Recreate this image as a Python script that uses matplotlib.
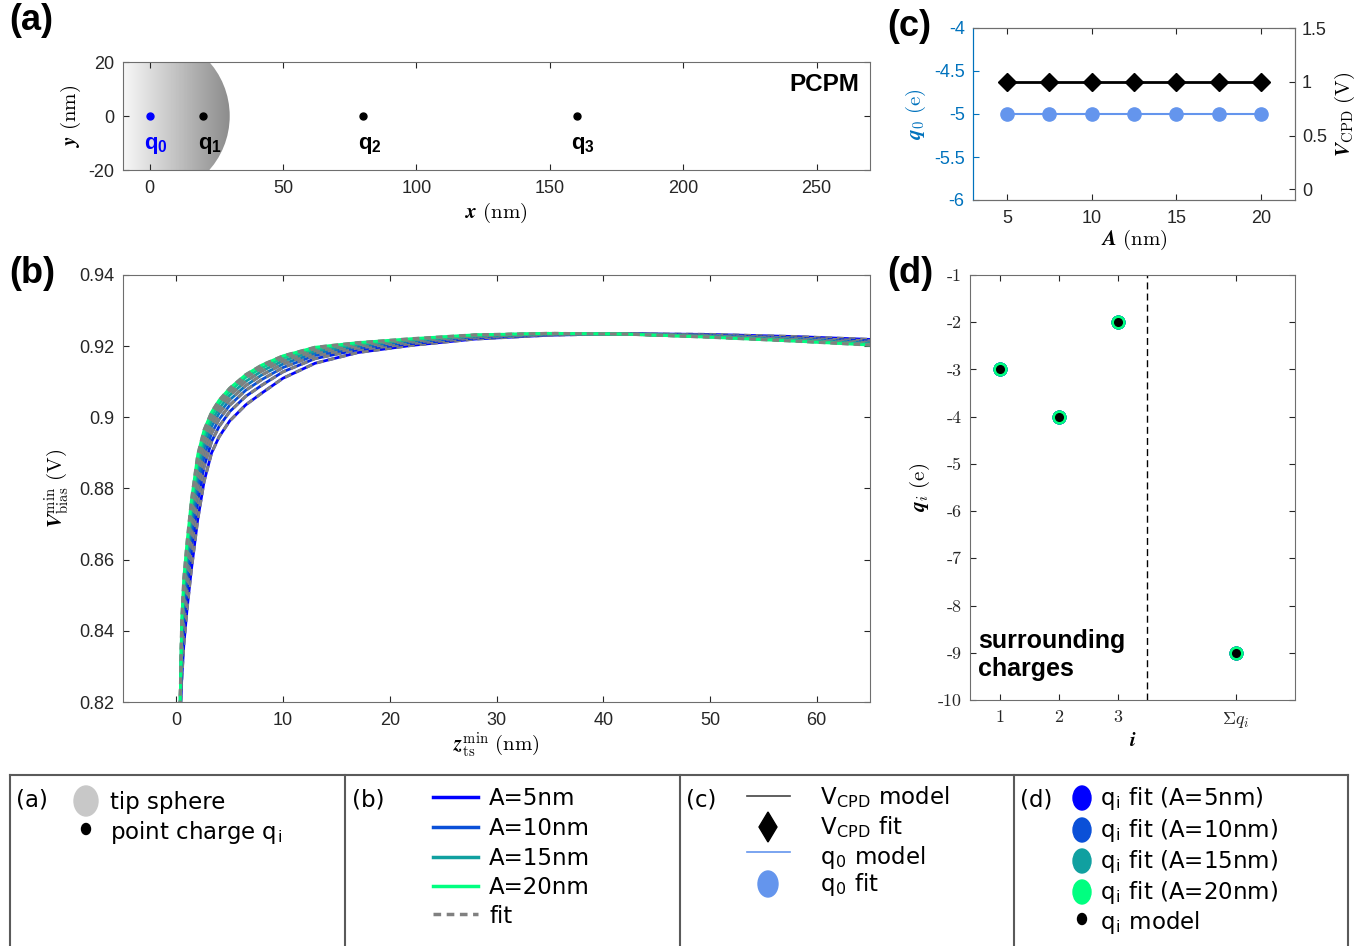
import matplotlib
matplotlib.use("Agg")
import matplotlib.pyplot as plt
from matplotlib.patches import Circle, Ellipse, Polygon
import numpy as np

# Fonts
plt.rcParams['font.family'] = ['Liberation Sans', 'DejaVu Sans']
plt.rcParams['mathtext.fontset'] = 'cm'
plt.rcParams['mathtext.bf'] = 'Liberation Sans:bold'
plt.rcParams['mathtext.rm'] = 'Liberation Sans'
plt.rcParams['mathtext.it'] = 'Liberation Sans:italic'
plt.rcParams['axes.unicode_minus'] = False

# ---------------- data ----------------
# (a) geometry
tip_x, tip_y, tip_radius = 0, 0, 30
charge_x = [0, 20, 80, 160]
charge_y = [0, 0, 0, 0]
charge_names = ["0", "1", "2", "3"]

# (b) V_bias^min vs z_ts^min for each amplitude
A_vals = [5, 7.5, 10, 12.5, 15, 17.5, 20]
z_ts = [0.3, 0.5, 0.7, 1.0, 1.4, 2.0, 2.6, 3.3, 4.0, 5.0, 6.5, 8.0, 10, 13, 17, 22, 28, 35, 42, 50, 58, 65]
v_A5 = [0.810, 0.826, 0.836, 0.846, 0.857, 0.8712, 0.8820, 0.8900, 0.8945, 0.8990, 0.9035, 0.9068,
        0.9110, 0.9152, 0.9182, 0.9202, 0.9220, 0.9231, 0.9235, 0.9233, 0.9227, 0.9219]
v_A7p5 = [0.8106, 0.8308, 0.8413, 0.8513, 0.8625, 0.8763, 0.8861, 0.8932, 0.8974, 0.9016, 0.9059, 0.9090,
          0.9128, 0.9165, 0.9190, 0.9207, 0.9223, 0.9232, 0.9235, 0.9231, 0.9223, 0.9215]
v_A10 = [0.8110, 0.8342, 0.8451, 0.8551, 0.8664, 0.8800, 0.8890, 0.8955, 0.8994, 0.9034, 0.9076, 0.9106,
         0.9140, 0.9174, 0.9195, 0.9211, 0.9226, 0.9233, 0.9235, 0.9229, 0.9221, 0.9211]
v_A12p5 = [0.8113, 0.8369, 0.8482, 0.8582, 0.8695, 0.8829, 0.8913, 0.8974, 0.9011, 0.9049, 0.9089, 0.9119,
           0.9150, 0.9181, 0.9200, 0.9214, 0.9228, 0.9234, 0.9234, 0.9228, 0.9219, 0.9209]
v_A15 = [0.8116, 0.8393, 0.8508, 0.8608, 0.8722, 0.8855, 0.8933, 0.8990, 0.9025, 0.9062, 0.9101, 0.9130,
         0.9159, 0.9187, 0.9204, 0.9217, 0.9229, 0.9235, 0.9234, 0.9227, 0.9217, 0.9207]
v_A17p5 = [0.8118, 0.8413, 0.8531, 0.8631, 0.8746, 0.8877, 0.8951, 0.9004, 0.9038, 0.9073, 0.9112, 0.9139,
           0.9167, 0.9193, 0.9207, 0.9219, 0.9231, 0.9236, 0.9234, 0.9226, 0.9215, 0.9205]
v_A20 = [0.812, 0.843, 0.855, 0.865, 0.8765, 0.8895, 0.8965, 0.9015, 0.9048, 0.9082, 0.9120, 0.9147,
         0.9173, 0.9197, 0.9210, 0.9221, 0.9232, 0.9236, 0.9234, 0.9225, 0.9214, 0.9203]
v_curves = [v_A5, v_A7p5, v_A10, v_A12p5, v_A15, v_A17p5, v_A20]
A_colors = ['#0000ff', '#0028e6', '#0a50d8', '#0c78bc', '#10a0a0', '#08d090', '#00ff80']

# (c) fitted q0 and V_CPD
q0_model = [-5, -5, -5, -5, -5, -5, -5]
q0_fit = [-5, -5, -5, -5, -5, -5, -5]
vcpd_model = [1, 1, 1, 1, 1, 1, 1]
vcpd_fit = [1, 1, 1, 1, 1, 1, 1]

# (d) surrounding charges
qi_pos = [1, 2, 3, 5]
qi_model = [-3, -4, -2, -9]
qi_fit = [[-3, -4, -2, -9] for _ in A_vals]
qi_ticklabels = ["1", "2", "3", r"$\boldsymbol{\Sigma q_i}$"]

# ---------------- figure ----------------
W, H = 1359, 946
fig = plt.figure(figsize=(W / 100, H / 100), dpi=100)

spine_col = '#6e6e6e'
tick_col = '#262626'
blue_ax = '#0072bd'
cornflower = '#6495ed'
LAB = 15


def px_axes(l, t, r, b):
    return fig.add_axes([l / W, 1 - b / H, (r - l) / W, (b - t) / H])


def style(ax, size=13):
    for s in ax.spines.values():
        s.set_color(spine_col)
    ax.tick_params(direction='in', colors=tick_col, labelsize=size, length=4,
                   top=True, right=True)
    ax.tick_params(axis='x', pad=7)
    ax.tick_params(axis='y', pad=6)


# panel (a)
ax_a = px_axes(123, 62, 870, 170)
grad = np.linspace(0.97, 0.55, 256).reshape(1, -1)
im = ax_a.imshow(grad, cmap='gray', vmin=0, vmax=1, aspect='auto',
                 extent=[-10, tip_x + tip_radius, -20, 20], zorder=1)
circ = Circle((tip_x, tip_y), tip_radius, facecolor='none', edgecolor='none')
ax_a.add_patch(circ)
im.set_clip_path(circ)
for x, y, n in zip(charge_x, charge_y, charge_names):
    col = 'blue' if n == "0" else 'black'
    ax_a.plot(x, y, 'o', color=col, ms=5, zorder=3)
    ax_a.text(x - 2, y - 11, r"$\mathbf{q}_{\mathbf{%s}}$" % n, color=col, fontsize=16,
              ha='left', va='center', math_fontfamily='custom')
ax_a.text(0.985, 0.79, "PCPM", transform=ax_a.transAxes, ha='right', va='center',
          fontsize=17.5, weight='bold')
ax_a.set_xlim(-10, 270)
ax_a.set_ylim(-20, 20)
ax_a.set_xticks([0, 50, 100, 150, 200, 250])
ax_a.set_yticks([-20, 0, 20])
style(ax_a)
ax_a.set_xlabel(r"$\boldsymbol{x}\ \mathrm{(nm)}$", fontsize=LAB, labelpad=3, math_fontfamily='cm')
ax_a.set_ylabel(r"$\boldsymbol{y}\ \mathrm{(nm)}$", fontsize=LAB, labelpad=4, math_fontfamily='cm')

# panel (b)
ax_b = px_axes(123, 275, 870, 702)
for v, c in zip(v_curves, A_colors):
    ax_b.plot(z_ts, v, color=c, lw=2)
    ax_b.plot(z_ts, v, color='#808080', lw=2.2, ls=(0, (2.2, 1.6)))
ax_b.set_xlim(-5, 65)
ax_b.set_ylim(0.82, 0.94)
ax_b.set_xticks(range(0, 61, 10))
ax_b.set_yticks([0.82, 0.84, 0.86, 0.88, 0.9, 0.92, 0.94])
ax_b.set_yticklabels(['0.82', '0.84', '0.86', '0.88', '0.9', '0.92', '0.94'])
style(ax_b)
ax_b.set_xlabel(r"$\boldsymbol{z}_{\mathrm{ts}}^{\mathrm{min}}\ \mathrm{(nm)}$", fontsize=LAB,
                labelpad=1, math_fontfamily='cm')
ax_b.set_ylabel(r"$\boldsymbol{V}_{\mathrm{bias}}^{\mathrm{min}}\ \mathrm{(V)}$", fontsize=LAB,
                labelpad=6, math_fontfamily='cm')

# panel (c)
ax_c = px_axes(973, 28, 1295, 200)
ax_c.plot(A_vals, q0_model, color=cornflower, lw=1.5)
ax_c.plot(A_vals, q0_fit, 'o', color=cornflower, ms=9.5)
ax_c.set_xlim(3, 22)
ax_c.set_ylim(-6, -4)
ax_c.set_xticks([5, 10, 15, 20])
ax_c.set_yticks([-6, -5.5, -5, -4.5, -4])
ax_c.set_yticklabels(['-6', '-5.5', '-5', '-4.5', '-4'])
style(ax_c)
ax_c.tick_params(right=False)
ax_c.tick_params(axis='y', colors=blue_ax)
ax_c.spines['left'].set_color(blue_ax)
ax_c.set_xlabel(r"$\boldsymbol{A}\ \mathrm{(nm)}$", fontsize=LAB, labelpad=1, math_fontfamily='cm')
ax_c.set_ylabel(r"$\boldsymbol{q}_0\ \mathrm{(e)}$", fontsize=LAB, color=blue_ax, labelpad=4,
                math_fontfamily='cm')
ax_c2 = ax_c.twinx()
ax_c2.plot(A_vals, vcpd_model, color='black', lw=2)
ax_c2.plot(A_vals, vcpd_fit, 'D', color='black', ms=9)
ax_c2.set_ylim(-0.1, 1.5)
ax_c2.set_yticks([0, 0.5, 1, 1.5])
ax_c2.set_yticklabels(['0', '0.5', '1', '1.5'])
for s in ax_c2.spines.values():
    s.set_color(spine_col)
ax_c2.spines['left'].set_color(blue_ax)
ax_c2.tick_params(axis='y', direction='in', colors=tick_col, labelsize=13, length=4, pad=5)
ax_c2.set_ylabel(r"$\boldsymbol{V}_{\mathrm{CPD}}\ \mathrm{(V)}$", fontsize=LAB, labelpad=4,
                 math_fontfamily='cm')

# panel (d)
ax_d = px_axes(970, 275, 1295, 700)
for f, c in zip(qi_fit, A_colors):
    ax_d.plot(qi_pos, f, 'o', color=c, ms=9, ls='none')
ax_d.plot(qi_pos, qi_model, 'o', color='black', ms=5.5, ls='none')
ax_d.axvline(3.5, color='black', lw=1, ls=(0, (5, 3)))
ax_d.text(0.63, -9.05, "surrounding\ncharges", fontsize=18, weight='bold', ha='left',
          va='center', linespacing=1.2)
ax_d.set_xlim(0.5, 6)
ax_d.set_ylim(-10, -1)
ax_d.set_xticks(qi_pos)
ax_d.set_xticklabels(qi_ticklabels)
ax_d.set_yticks(range(-10, 0))
ax_d.set_yticklabels([str(t) for t in range(-10, 0)])
style(ax_d, size=13)
for lbl in ax_d.get_xticklabels() + ax_d.get_yticklabels():
    lbl.set_fontfamily('cmr10')
    lbl.set_math_fontfamily('cm')
ax_d.set_xlabel(r"$\boldsymbol{i}$", fontsize=LAB, labelpad=1, math_fontfamily='cm')
ax_d.set_ylabel(r"$\boldsymbol{q}_i\ \mathrm{(e)}$", fontsize=LAB, labelpad=4, math_fontfamily='cm')

# panel letters
for lab, x, y in [("(a)", 9, 20), ("(b)", 9, 273), ("(c)", 887, 27), ("(d)", 887, 273)]:
    fig.text(x / W, 1 - y / H, lab, fontsize=26, weight='bold', va='center', ha='left')

# ---------------- legend boxes ----------------
lg = fig.add_axes([0, 0, 1, 1], zorder=-1)
lg.set_xlim(0, W)
lg.set_ylim(H, 0)
lg.axis('off')
box_col = '#5a5a5a'
lg.plot([10, 1348], [775, 775], color=box_col, lw=1.5)
for x in [10, 345, 680, 1014, 1348]:
    lg.plot([x, x], [775, H], color=box_col, lw=1.5)

lfont = dict(family='DejaVu Sans', fontsize=16.5, va='center', ha='left')
for lab, x in [("(a)", 16), ("(b)", 352), ("(c)", 686), ("(d)", 1020)]:
    lg.text(x, 800, lab, **lfont)

# (a)
lg.add_patch(Ellipse((86, 801), 24, 30, color='#c8c8c8'))
lg.add_patch(Ellipse((86, 829), 9, 11, color='black'))
lg.text(110, 802, "tip sphere", **lfont)
lg.text(110, 832, r"point charge q$_\mathregular{i}$", **lfont)

# (b)
b_rows = [797, 827, 857, 886]
b_cols = [A_colors[0], A_colors[2], A_colors[4], A_colors[6]]
b_labels = ["A=5nm", "A=10nm", "A=15nm", "A=20nm"]
for y, c, t in zip(b_rows, b_cols, b_labels):
    lg.plot([433, 478], [y, y], color=c, lw=2.5)
    lg.text(489, y + 1, t, **lfont)
lg.plot([433, 478], [914, 914], color='#808080', lw=2.5, ls=(0, (2.2, 1.6)))
lg.text(489, 916, "fit", **lfont)

# (c)
lg.plot([747, 790], [796, 796], color='#444444', lw=1.2)
lg.text(820, 797, r"V$_\mathregular{CPD}$ model", **lfont)
lg.add_patch(Polygon([[768, 812], [777, 827], [768, 842], [759, 827]], color='black'))
lg.text(820, 827, r"V$_\mathregular{CPD}$ fit", **lfont)
lg.plot([747, 790], [852, 852], color=cornflower, lw=1.2)
lg.text(820, 857, r"q$_\mathregular{0}$ model", **lfont)
lg.add_patch(Ellipse((768, 884), 20, 26, color=cornflower))
lg.text(820, 884, r"q$_\mathregular{0}$ fit", **lfont)

# (d)
d_rows = [798, 830, 861, 892]
for y, c, a in zip(d_rows, b_cols, [5, 10, 15, 20]):
    lg.add_patch(Ellipse((1082, y), 18, 24, color=c))
    lg.text(1100, y, r"q$_\mathregular{i}$ fit (A=%dnm)" % a, **lfont)
lg.add_patch(Ellipse((1082, 919), 9, 11, color='black'))
lg.text(1100, 922, r"q$_\mathregular{i}$ model", **lfont)

fig.savefig("out.png", dpi=100)
